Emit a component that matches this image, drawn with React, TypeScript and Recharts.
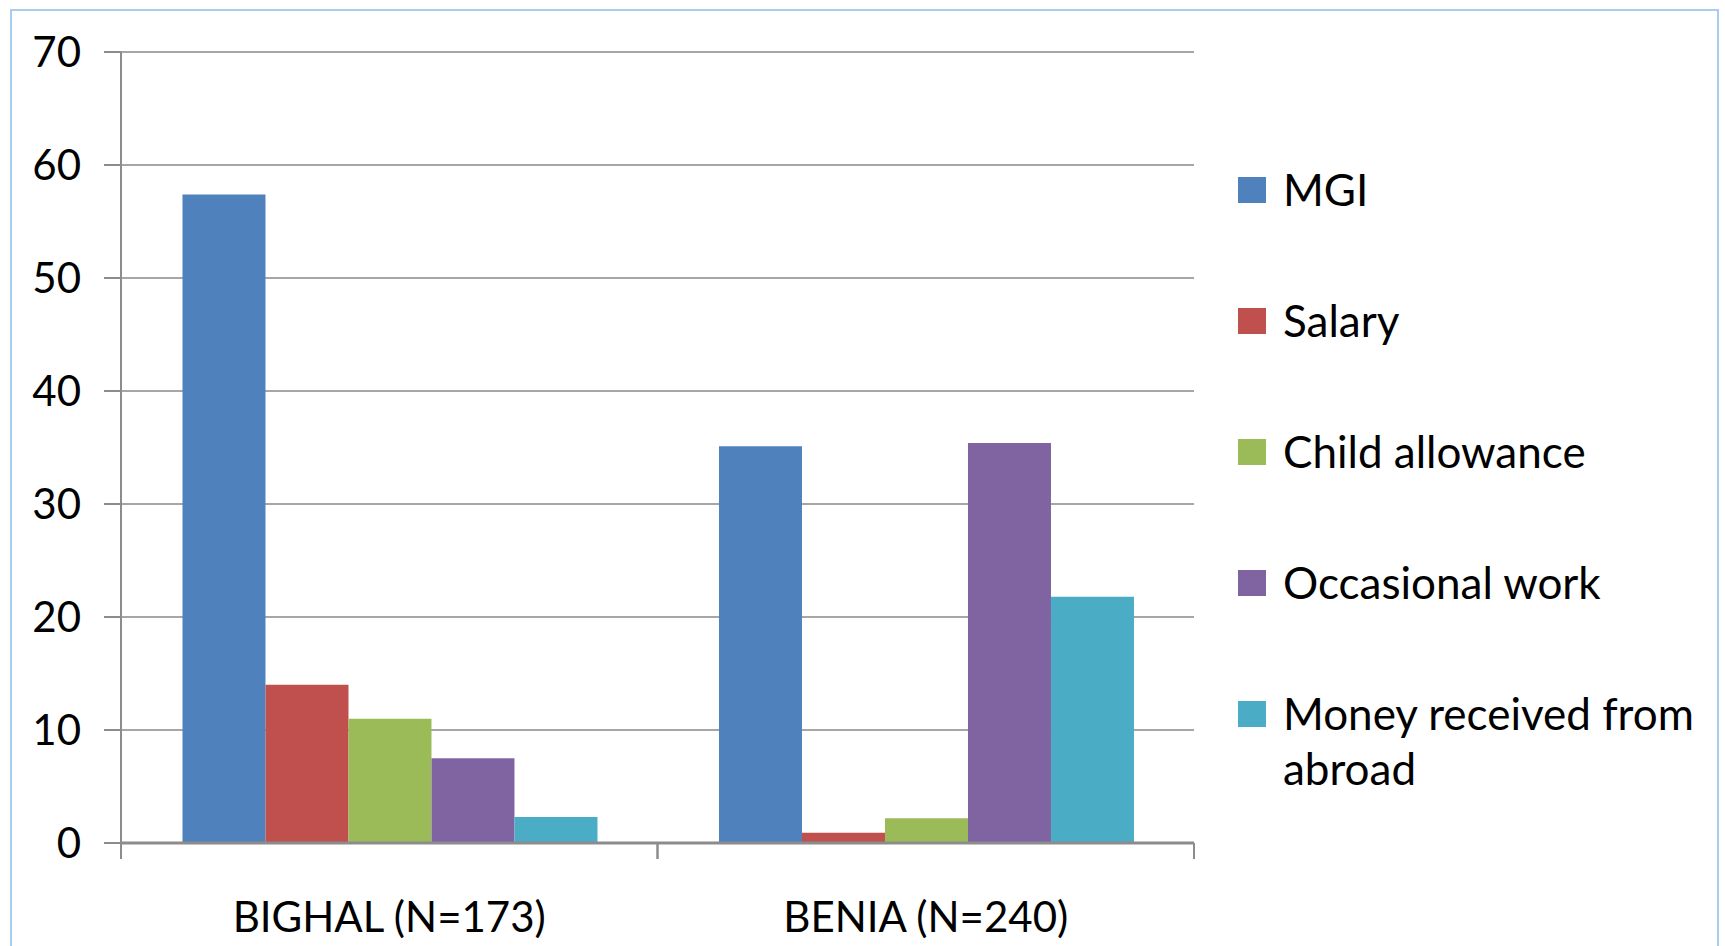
import React from "react";
import { BarChart, Bar, XAxis, YAxis, CartesianGrid, Legend } from "recharts";

const categories = ["BIGHAL (N=173)", "BENIA (N=240)"];
const seriesNames = ["MGI", "Salary", "Child allowance", "Occasional work", "Money received from abroad"];
const mgi = [57.4, 35.1];
const salary = [14.0, 0.9];
const childAllowance = [11.0, 2.2];
const occasionalWork = [7.5, 35.4];
const moneyAbroad = [2.3, 21.8];
const yTicks = [0, 10, 20, 30, 40, 50, 60, 70];
const colors = ["#4F81BD", "#C0504D", "#9BBB59", "#8064A2", "#4BACC6"];
const seriesKeys = ["mgi", "salary", "child", "occasional", "money"];

const data = categories.map((c, i) => ({
  name: c,
  mgi: mgi[i],
  salary: salary[i],
  child: childAllowance[i],
  occasional: occasionalWork[i],
  money: moneyAbroad[i],
}));

const FONT = "Lato, 'Open Sans', sans-serif";
const GRID = "#A6A6A6";
const AXIS = "#8C8C8C";
const TICK_MARGIN = 59;
const TICK_LEN = 16;

const LegendContent = (props: any) => {
  const payload = [...(props.payload || [])].sort(
    (a: any, b: any) => seriesNames.indexOf(a.value) - seriesNames.indexOf(b.value)
  );
  return (
    <div style={{ fontFamily: FONT, fontSize: 44, color: "#000", width: 470 }}>
      {payload.map((p: any, i: number) => (
        <div key={i} style={{ display: "flex", alignItems: "flex-start", marginBottom: 76, lineHeight: "55px" }}>
          <div style={{ width: 28, height: 26, background: p.color, marginTop: 15, marginRight: 17, flexShrink: 0 }} />
          <div style={{ width: 430 }}>{p.value}</div>
        </div>
      ))}
    </div>
  );
};

const CategoryTick = (props: any) => {
  const { x, y, payload } = props;
  const half = payload && typeof payload.offset === "number" ? payload.offset : 0;
  const axisY = y - TICK_MARGIN;
  return (
    <g>
      {half > 0 && (
        <>
          <line x1={x - half} x2={x - half} y1={axisY} y2={axisY + TICK_LEN} stroke={AXIS} strokeWidth={2} />
          <line x1={x + half} x2={x + half} y1={axisY} y2={axisY + TICK_LEN} stroke={AXIS} strokeWidth={2} />
        </>
      )}
      <text x={x} y={y} dy="0.71em" textAnchor="middle" fill="#000" fontSize={42} fontFamily={FONT}>
        {payload.value}
      </text>
    </g>
  );
};

export default function App() {
  return (
    <div style={{ position: "absolute", left: 0, top: 0, width: 1725, height: 946, overflow: "hidden", background: "#fff" }}>
      <div style={{ position: "absolute", left: 10, top: 9, width: 1709, height: 1000, border: "2px solid #A9CDF0", boxSizing: "border-box" }} />
      <div style={{ position: "absolute", left: 0, top: 0 }}>
        <BarChart
          width={1725}
          height={946}
          data={data}
          margin={{ top: 52, right: 531, bottom: 23, left: 0 }}
          barCategoryGap="11.46%"
          barGap={0}
        >
          <CartesianGrid horizontal={true} vertical={false} stroke={GRID} strokeWidth={2} />
          <XAxis
            dataKey="name"
            tickLine={false}
            tickSize={0}
            tickMargin={TICK_MARGIN}
            axisLine={{ stroke: AXIS, strokeWidth: 3 }}
            tick={<CategoryTick />}
            height={80}
            interval={0}
          />
          <YAxis
            width={121}
            domain={[0, 70]}
            ticks={yTicks}
            interval={0}
            tickSize={17}
            tickMargin={23}
            axisLine={{ stroke: AXIS, strokeWidth: 2 }}
            tickLine={{ stroke: AXIS, strokeWidth: 2 }}
            tick={{ fontSize: 42, fill: "#000", fontFamily: FONT }}
          />
          <Legend
            layout="horizontal"
            verticalAlign="top"
            align="left"
            content={<LegendContent />}
            wrapperStyle={{ position: "absolute", left: 1238, top: 162, width: 480, height: 0, overflow: "visible" }}
          />
          {seriesKeys.map((k, i) => (
            <Bar key={k} dataKey={k} name={seriesNames[i]} fill={colors[i]} isAnimationActive={false} />
          ))}
        </BarChart>
      </div>
    </div>
  );
}
